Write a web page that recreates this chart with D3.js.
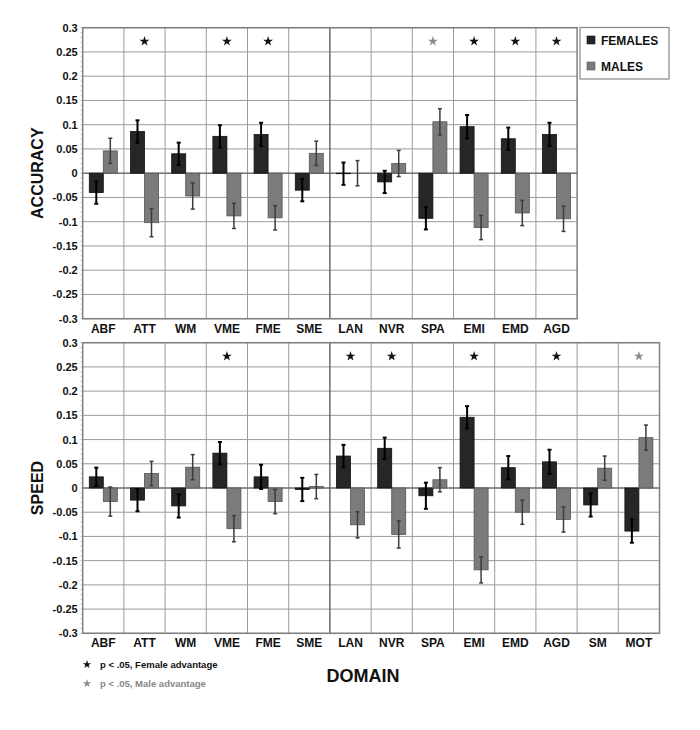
<!DOCTYPE html>
<html>
<head>
<meta charset="utf-8">
<script src="https://cdn.jsdelivr.net/npm/d3@7"></script>
<style>
  body { margin: 0; background: #fff; }
  svg text { font-family: "Liberation Sans", Arial, sans-serif; font-weight: bold; }
</style>
</head>
<body>
<div id="chart"></div>
<script>
// ---- data ----
var accCats = ['ABF','ATT','WM','VME','FME','SME','LAN','NVR','SPA','EMI','EMD','AGD'];
var accFemales = [-0.040, 0.086, 0.040, 0.076, 0.080, -0.035, -0.001, -0.018, -0.093, 0.096, 0.071, 0.080];
var accMales   = [0.046, -0.102, -0.047, -0.088, -0.092, 0.041, 0.000, 0.020, 0.106, -0.112, -0.082, -0.094];
var accFemErr  = [0.023, 0.023, 0.023, 0.023, 0.024, 0.023, 0.023, 0.023, 0.023, 0.024, 0.023, 0.024];
var accMaleErr = [0.026, 0.029, 0.027, 0.026, 0.025, 0.025, 0.026, 0.027, 0.027, 0.025, 0.026, 0.026];
var accStars   = [null, 'F', null, 'F', 'F', null, null, null, 'M', 'F', 'F', 'F'];

var spdCats = ['ABF','ATT','WM','VME','FME','SME','LAN','NVR','SPA','EMI','EMD','AGD','SM','MOT'];
var spdFemales = [0.023, -0.025, -0.037, 0.072, 0.023, -0.003, 0.066, 0.082, -0.016, 0.146, 0.042, 0.054, -0.035, -0.089];
var spdMales   = [-0.028, 0.030, 0.043, -0.084, -0.028, 0.003, -0.076, -0.096, 0.017, -0.169, -0.050, -0.065, 0.041, 0.104];
var spdFemErr  = [0.019, 0.023, 0.024, 0.023, 0.025, 0.024, 0.023, 0.022, 0.027, 0.023, 0.024, 0.025, 0.024, 0.024];
var spdMaleErr = [0.030, 0.025, 0.026, 0.027, 0.025, 0.025, 0.027, 0.028, 0.025, 0.027, 0.025, 0.026, 0.025, 0.026];
var spdStars   = [null, null, null, 'F', null, null, 'F', 'F', null, 'F', null, 'F', null, 'M'];

var yTicks = [0.3, 0.25, 0.2, 0.15, 0.1, 0.05, 0, -0.05, -0.1, -0.15, -0.2, -0.25, -0.3];
var seriesNames = ['FEMALES', 'MALES'];
var sigLabels = ['p < .05, Female advantage', 'p < .05, Male advantage'];

var colF = '#262626', colM = '#7b7b7b';
var starCol = { F: '#111', M: '#8a8a8a' };
var star = d3.symbol().type(d3.symbolStar);

var svg = d3.select('#chart').append('svg')
    .attr('width', 700).attr('height', 730);

var colW = 41.2;
var left = 82.7;

function drawPanel(cats, fem, mal, femErr, malErr, stars, top, bottom, title, sepCat){
    var right = left + colW * cats.length;
    var x = d3.scaleBand().domain(cats).range([left, right]).padding(0);
    var sub = d3.scaleBand().domain(['F','M']).range([0, x.bandwidth()]).paddingInner(0).paddingOuter(0.47);
    var y = d3.scaleLinear().domain([-0.3, 0.3]).range([bottom, top]);

    var g = svg.append('g');

    // horizontal grid
    g.selectAll('line.hgrid').data(yTicks).enter().append('line')
        .attr('x1', left).attr('x2', right)
        .attr('y1', function(d){ return y(d); }).attr('y2', function(d){ return y(d); })
        .attr('stroke', '#9a9a9a').attr('stroke-width', 1);

    // vertical grid
    g.selectAll('line.vgrid').data(cats.slice(1)).enter().append('line')
        .attr('x1', function(d){ return x(d); }).attr('x2', function(d){ return x(d); })
        .attr('y1', top).attr('y2', bottom)
        .attr('stroke', function(d){ return d === sepCat ? '#555' : '#9a9a9a'; })
        .attr('stroke-width', function(d){ return d === sepCat ? 1.3 : 1; });

    // frame
    g.append('rect').attr('x', left).attr('y', top)
        .attr('width', right - left).attr('height', bottom - top)
        .attr('fill', 'none').attr('stroke', '#808080').attr('stroke-width', 1.5);

    // y axis labels + minor ticks
    var yAxis = d3.axisLeft(y).tickValues(yTicks).tickSize(0).tickPadding(5)
        .tickFormat(function(d){ return d === 0 ? '0' : String(+d.toFixed(2)); });
    var ax = g.append('g').attr('transform', 'translate(' + left + ',0)').call(yAxis);
    ax.select('.domain').remove();
    ax.selectAll('text').attr('font-size', 11).attr('fill', '#111');

    var minor = d3.range(-30, 31).map(function(d){ return d / 100; });
    g.selectAll('line.minor').data(minor).enter().append('line')
        .attr('x1', left - 2).attr('x2', left)
        .attr('y1', function(d){ return y(d); }).attr('y2', function(d){ return y(d); })
        .attr('stroke', '#999').attr('stroke-width', 0.7);

    // zero line
    g.append('line').attr('x1', left).attr('x2', right)
        .attr('y1', y(0)).attr('y2', y(0)).attr('stroke', '#555').attr('stroke-width', 1);

    var rows = cats.map(function(c, i){
        return [
            { cat: c, s: 'F', v: fem[i], e: femErr[i] },
            { cat: c, s: 'M', v: mal[i], e: malErr[i] }
        ];
    });
    var flat = [].concat.apply([], rows);

    g.selectAll('rect.bar').data(flat).enter().append('rect')
        .attr('x', function(d){ return x(d.cat) + sub(d.s); })
        .attr('width', sub.bandwidth())
        .attr('y', function(d){ return y(Math.max(0, d.v)); })
        .attr('height', function(d){ return Math.abs(y(d.v) - y(0)); })
        .attr('fill', function(d){ return d.s === 'F' ? colF : colM; })
        .attr('stroke', function(d){ return d.s === 'F' ? '#111' : '#555'; })
        .attr('stroke-width', 0.8);

    // error bars
    var eg = g.selectAll('g.err').data(flat).enter().append('g')
        .attr('stroke', function(d){ return d.s === 'F' ? '#000' : '#3c3c3c'; })
        .attr('stroke-width', function(d){ return d.s === 'F' ? 2 : 1.5; });
    eg.append('line')
        .attr('x1', function(d){ return x(d.cat) + sub(d.s) + sub.bandwidth() / 2; })
        .attr('x2', function(d){ return x(d.cat) + sub(d.s) + sub.bandwidth() / 2; })
        .attr('y1', function(d){ return y(d.v - d.e); })
        .attr('y2', function(d){ return y(d.v + d.e); });
    [1, -1].forEach(function(sg){
        eg.append('line')
            .attr('x1', function(d){ return x(d.cat) + sub(d.s) + sub.bandwidth() / 2 - 2; })
            .attr('x2', function(d){ return x(d.cat) + sub(d.s) + sub.bandwidth() / 2 + 2; })
            .attr('y1', function(d){ return y(d.v + sg * d.e); })
            .attr('y2', function(d){ return y(d.v + sg * d.e); });
    });

    // significance stars
    g.selectAll('path.star').data(cats.filter(function(c, i){ return stars[i]; })).enter().append('path')
        .attr('d', star.size(30))
        .attr('transform', function(d){ return 'translate(' + (x(d) + x.bandwidth() / 2) + ',' + y(0.272) + ')'; })
        .attr('fill', function(d){ return starCol[stars[cats.indexOf(d)]]; });

    // category labels
    g.selectAll('text.cat').data(cats).enter().append('text')
        .attr('x', function(d){ return x(d) + x.bandwidth() / 2; })
        .attr('y', bottom + 14)
        .attr('text-anchor', 'middle')
        .attr('font-size', 12)
        .attr('fill', '#111')
        .text(function(d){ return d; });

    // panel title
    svg.append('text')
        .attr('transform', 'translate(43,' + y(0) + ') rotate(-90)')
        .attr('text-anchor', 'middle')
        .attr('font-size', 16)
        .attr('fill', '#111')
        .text(title);
}

drawPanel(accCats, accFemales, accMales, accFemErr, accMaleErr, accStars, 27.7, 318.7, 'ACCURACY', 'LAN');
drawPanel(spdCats, spdFemales, spdMales, spdFemErr, spdMaleErr, spdStars, 342.7, 633.3, 'SPEED', 'LAN');

// legend
var leg = svg.append('g');
leg.append('rect').attr('x', 580).attr('y', 27.5).attr('width', 89).attr('height', 51.5)
    .attr('fill', '#fff').attr('stroke', '#888').attr('stroke-width', 1.2);
seriesNames.forEach(function(n, i){
    leg.append('rect').attr('x', 587).attr('y', 36 + i * 26).attr('width', 8).attr('height', 8)
        .attr('fill', i === 0 ? colF : colM).attr('stroke', i === 0 ? '#111' : '#555').attr('stroke-width', 0.6);
    leg.append('text').attr('x', 601).attr('y', 44.5 + i * 26)
        .attr('font-size', 12).attr('fill', '#111').text(n);
});

// significance legend
sigLabels.forEach(function(t, i){
    svg.append('path').attr('d', star.size(22))
        .attr('transform', 'translate(87,' + (664.5 + i * 19) + ')')
        .attr('fill', i === 0 ? starCol.F : starCol.M);
    svg.append('text').attr('x', 100).attr('y', 668 + i * 19)
        .attr('font-size', 9.5).attr('fill', i === 0 ? '#111' : '#888').text(t);
});

svg.append('text').attr('x', 363).attr('y', 682).attr('text-anchor', 'middle')
    .attr('font-size', 18).attr('fill', '#111').text('DOMAIN');
</script>
</body>
</html>
